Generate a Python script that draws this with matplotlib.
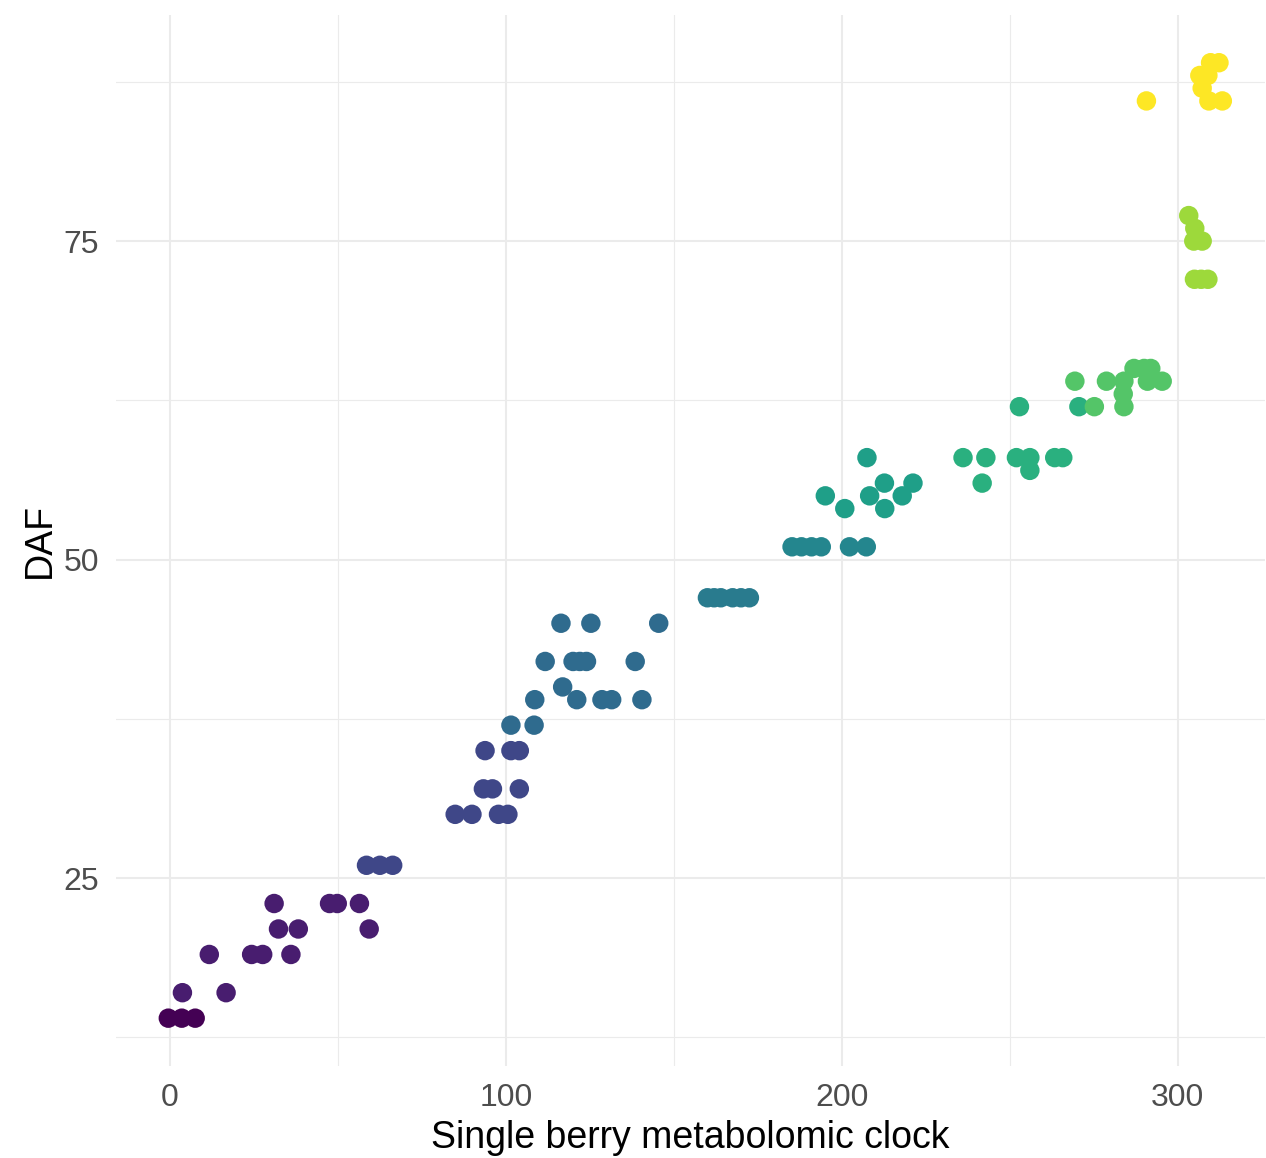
import numpy as np
import matplotlib
matplotlib.use("Agg")
import matplotlib.pyplot as plt
from matplotlib.ticker import MultipleLocator

plt.rcParams['font.family'] = ['Liberation Sans', 'DejaVu Sans']

# clock value (x) and DAF (y) for each sampling group, with the colour level of the group
g1_x = [-0.5, 3.5, 7.5]
g1_y = [14, 14, 14]

g2_x = [3.7, 16.7, 11.7, 24.3, 27.6, 36.0, 31.0, 32.3, 38.2, 47.5, 49.8, 56.4, 59.3]
g2_y = [16, 16, 19, 19, 19, 19, 23, 21, 21, 23, 23, 23, 21]

g3_x = [58.5, 62.5, 66.3, 84.9, 89.9, 97.8, 100.6, 93.3, 96.0, 104.0, 93.8, 101.5, 104.0]
g3_y = [26, 26, 26, 30, 30, 30, 30, 32, 32, 32, 35, 35, 35]

g4_x = [101.5, 108.4, 108.6, 121.1, 128.6, 131.5, 140.5, 116.9,
        111.7, 120.0, 122.0, 124.0, 138.5, 116.4, 125.3, 145.5]
g4_y = [37, 37, 39, 39, 39, 39, 39, 40, 42, 42, 42, 42, 42, 45, 45, 45]

g5_x = [160.0, 162.0, 164.0, 167.5, 170.0, 172.5]
g5_y = [47, 47, 47, 47, 47, 47]

g6_x = [185.2, 188.0, 191.0, 193.9, 202.3, 207.3]
g6_y = [51, 51, 51, 51, 51, 51]

g7_x = [195.1, 200.9, 207.5, 212.7, 208.3, 212.8, 218.0, 221.2]
g7_y = [55, 54, 58, 56, 55, 54, 55, 56]

g8_x = [236.1, 242.9, 252.0, 256.0, 263.4, 265.8, 241.8, 256.0, 252.9, 270.6]
g8_y = [58, 58, 58, 58, 58, 58, 56, 57, 62, 62]

g9_x = [269.4, 278.8, 284.0, 291.0, 295.4, 283.8, 275.2, 284.0, 287.0, 290.0, 292.0]
g9_y = [64, 64, 64, 64, 64, 63, 62, 62, 65, 65, 65]

g10_x = [303.3, 305.1, 304.8, 307.3, 305.0, 307.0, 309.0]
g10_y = [77, 76, 75, 75, 72, 72, 72]

g11_x = [290.7, 309.3, 313.3, 307.3, 306.6, 309.0, 309.8, 312.3]
g11_y = [86, 86, 86, 87, 88, 88, 89, 89]

groups_x = [g1_x, g2_x, g3_x, g4_x, g5_x, g6_x, g7_x, g8_x, g9_x, g10_x, g11_x]
groups_y = [g1_y, g2_y, g3_y, g4_y, g5_y, g6_y, g7_y, g8_y, g9_y, g10_y, g11_y]
group_level = [14, 20, 30, 40, 45, 48.5, 56, 61.5, 69, 78, 89]

fig = plt.figure(figsize=(12.66, 11.58), dpi=100)
ax = fig.add_axes([0.0913, 0.0795, 0.9079, 0.9076])

cmap = plt.get_cmap('viridis')
norm = plt.Normalize(14, 89)
for gx, gy, lev in zip(groups_x, groups_y, group_level):
    ax.scatter(gx, gy, s=196, color=cmap(norm(lev)), edgecolors='none', zorder=3)

ax.set_xlim(-16.2, 326)
ax.set_ylim(10.25, 92.75)
ax.xaxis.set_major_locator(MultipleLocator(100))
ax.xaxis.set_minor_locator(MultipleLocator(50))
ax.yaxis.set_major_locator(MultipleLocator(25))
ax.yaxis.set_minor_locator(plt.FixedLocator([12.5, 37.5, 62.5, 87.5]))

ax.grid(which='major', color='#ebebeb', linewidth=1.5, zorder=0)
ax.grid(which='minor', color='#ebebeb', linewidth=0.8, zorder=0)
ax.set_axisbelow(True)
for sp in ax.spines.values():
    sp.set_visible(False)
ax.tick_params(which='both', length=0, labelsize=23, labelcolor='#4d4d4d')
ax.tick_params(axis='x', pad=12)
ax.tick_params(axis='y', pad=12)

ax.set_xlabel('Single berry metabolomic clock', fontsize=27, color='black', labelpad=5)
ax.set_ylabel('DAF', fontsize=27, color='black', labelpad=4)

fig.savefig('out.png', dpi=100)
